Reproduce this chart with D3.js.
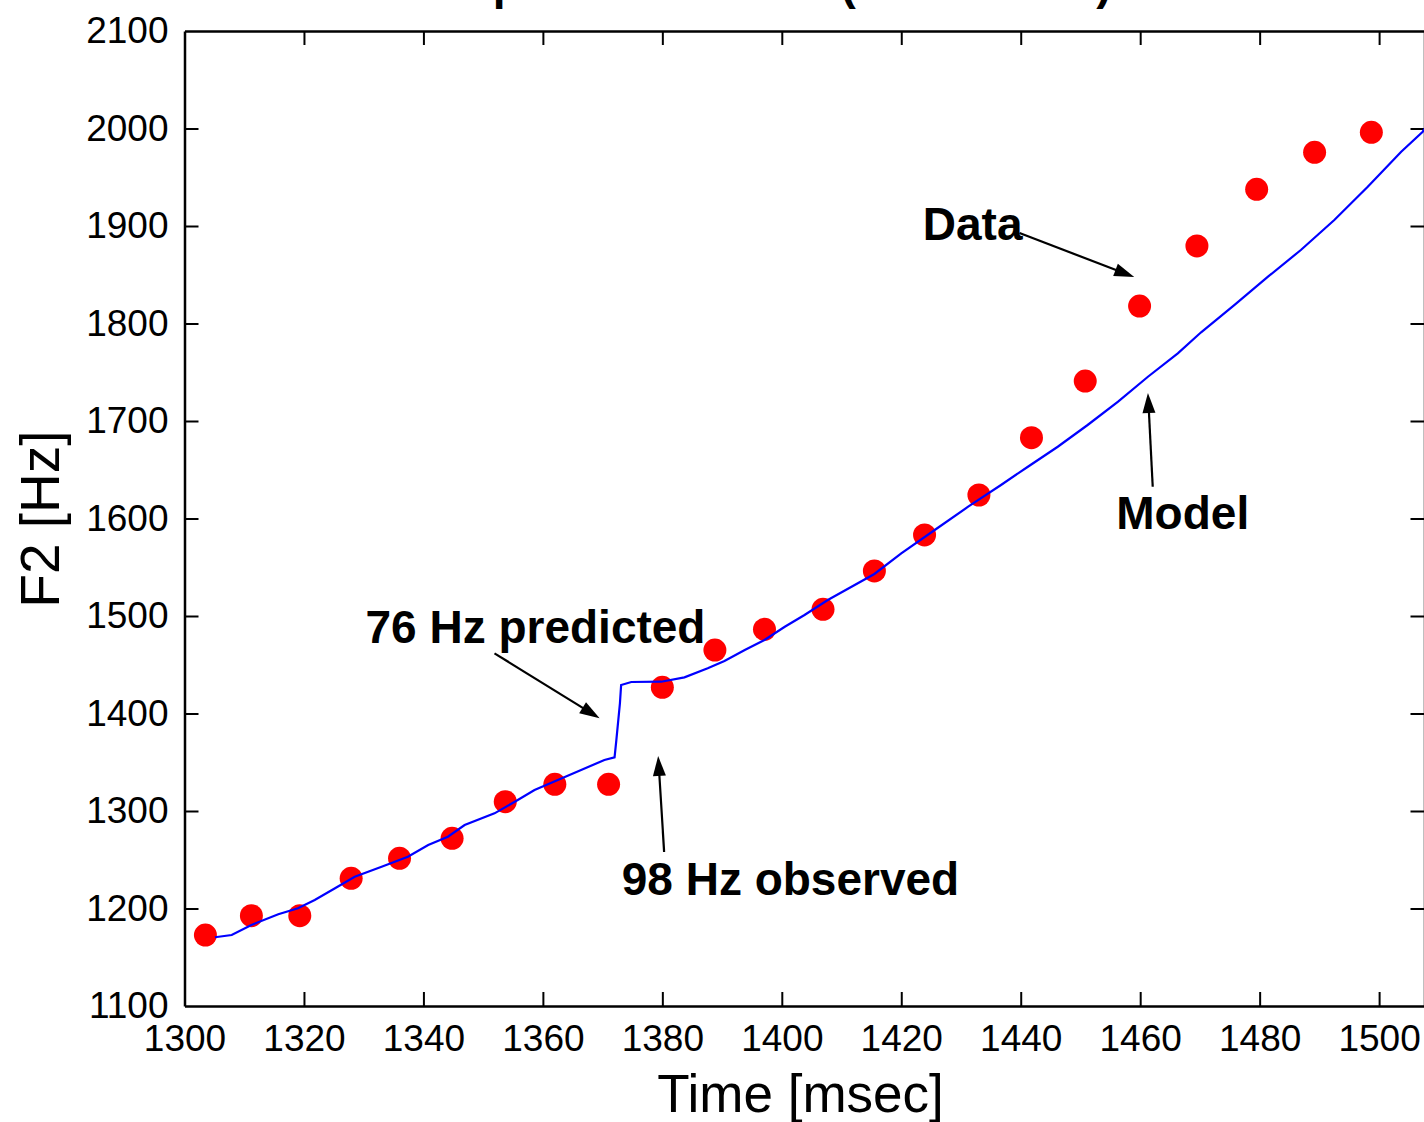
<!DOCTYPE html>
<html>
<head>
<meta charset="utf-8">
<style>
  body { margin: 0; background: #fff; overflow: hidden; }
  svg { display: block; }
  text { font-family: "Liberation Sans", Arial, sans-serif; fill: #000; }
</style>
<script src="https://d3js.org/d3.v7.min.js"></script>
</head>
<body>
<svg id="chart"></svg>
<script>
  var width = 1424;
  var height = 1122;

  // measured F2 (red dots)
  var dataTime = [1303.5, 1311.2, 1319.3, 1327.9, 1336.0, 1344.8, 1353.7, 1362.0, 1371.0, 1380.0,
                  1388.8, 1397.1, 1406.9, 1415.5, 1423.9, 1433.0, 1441.8, 1450.8, 1459.9, 1469.5,
                  1479.5, 1489.2, 1498.7];
  var dataF2 = [1172.8, 1192.6, 1192.6, 1231.0, 1251.5, 1272.0, 1309.5, 1327.4, 1327.4, 1426.9,
                1465.1, 1486.4, 1506.9, 1546.2, 1583.1, 1624.1, 1682.9, 1741.0, 1817.9, 1879.5,
                1937.6, 1975.6, 1996.1];

  // model F2 (blue line)
  var modelTime = [1305.1, 1307.9, 1311.2, 1315.7, 1319.0, 1321.8, 1325.2, 1328.5, 1333.0, 1337.4,
                   1340.8, 1344.1, 1346.9, 1351.9, 1355.3, 1358.6, 1362.5, 1366.4, 1370.3, 1372.0,
                   1372.3, 1372.9, 1373.1, 1374.8, 1379.8, 1383.7, 1387.6, 1390.4, 1393.8, 1397.1,
                   1400.5, 1403.8, 1407.7, 1415.5, 1420.0, 1425.6, 1431.2, 1436.7, 1441.2, 1446.2,
                   1451.2, 1456.3, 1461.3, 1466.3, 1470.2, 1475.8, 1481.4, 1486.9, 1492.5, 1498.1,
                   1503.7, 1507.3, 1507.7];
  var modelF2 = [1170.5, 1172.8, 1183.1, 1194.1, 1200.2, 1208.7, 1220.7, 1232.6, 1242.9, 1253.1,
                 1265.1, 1273.6, 1285.6, 1297.6, 1309.5, 1321.5, 1331.8, 1342.1, 1352.3, 1355.1,
                 1372.8, 1410.5, 1429.2, 1432.3, 1432.6, 1437.1, 1446.4, 1453.8, 1465.1, 1475.4,
                 1489.0, 1501.0, 1516.4, 1543.1, 1564.3, 1588.2, 1612.1, 1634.4, 1653.1, 1673.6,
                 1695.9, 1719.8, 1745.4, 1769.4, 1791.0, 1819.0, 1848.0, 1875.4, 1906.2, 1940.3,
                 1976.2, 1996.7, 2000.5];

  var xTicks = [1300, 1320, 1340, 1360, 1380, 1400, 1420, 1440, 1460, 1480, 1500];
  var yTicks = [1100, 1200, 1300, 1400, 1500, 1600, 1700, 1800, 1900, 2000, 2100];

  // annotations: label, label anchor (time, F2), arrow start and arrow tip
  var noteLabels = ["Data", "Model", "76 Hz predicted", "98 Hz observed"];
  var noteTextT = [1423.6, 1456.0, 1330.3, 1373.2];
  var noteTextF = [1885.6, 1589.2, 1472.0, 1213.8];
  var arrowFromT = [1439.8, 1462.1, 1351.9, 1380.3];
  var arrowFromF = [1892.8, 1632.6, 1461.7, 1257.9];
  var arrowToT = [1459.0, 1461.3, 1369.5, 1379.3];
  var arrowToF = [1847.7, 1728.7, 1395.1, 1356.4];

  var titleText = 'Speaker M1: /rai/ (from "rice")';

  var plotLeft = 184.5, plotTop = 31, plotRight = 1424.5, plotBottom = 1006;

  var x = d3.scaleLinear().domain([1300, 1507.6]).range([plotLeft, plotRight]);
  var y = d3.scaleLinear().domain([1100, 2100]).range([plotBottom, plotTop]);

  var svg = d3.select("#chart").attr("width", width).attr("height", height);

  svg.append("rect").attr("width", width).attr("height", height).attr("fill", "#fff");

  svg.append("defs").append("clipPath").attr("id", "plotclip")
    .append("rect")
    .attr("x", plotLeft).attr("y", plotTop)
    .attr("width", plotRight - plotLeft).attr("height", plotBottom - plotTop);

  // title, cut off by the top of the picture
  svg.append("text")
    .attr("x", 462)
    .attr("y", -1)
    .style("font-size", "46px")
    .style("font-weight", "bold")
    .text(titleText);

  // axes (ticks point inward like MATLAB)
  var tickLen = 14;
  var fmt = d3.format("d");
  var xAxis = d3.axisBottom(x).tickValues(xTicks).tickFormat(fmt).tickSizeInner(-tickLen).tickSizeOuter(0).tickPadding(19);
  var xAxisTop = d3.axisTop(x).tickValues(xTicks).tickSizeInner(-tickLen).tickSizeOuter(0).tickFormat("");
  var yAxis = d3.axisLeft(y).tickValues(yTicks).tickFormat(fmt).tickSizeInner(-tickLen).tickSizeOuter(0).tickPadding(16);
  var yAxisRight = d3.axisRight(y).tickValues(yTicks).tickSizeInner(-tickLen).tickSizeOuter(0).tickFormat("");

  var gx = svg.append("g").attr("transform", "translate(0," + plotBottom + ")").call(xAxis);
  var gxt = svg.append("g").attr("transform", "translate(0," + plotTop + ")").call(xAxisTop);
  var gy = svg.append("g").attr("transform", "translate(" + plotLeft + ",0)").call(yAxis);
  var gyr = svg.append("g").attr("transform", "translate(" + plotRight + ",0)").call(yAxisRight);

  [gx, gxt, gy, gyr].forEach(function(g) {
    g.select(".domain").attr("stroke", "#000").attr("stroke-width", 2.5);
    g.selectAll(".tick line").attr("stroke", "#000").attr("stroke-width", 2);
    g.selectAll(".tick text")
      .attr("fill", "#000")
      .style("font-family", "'Liberation Sans', Arial, sans-serif")
      .style("font-size", "37px");
  });
  // no tick marks on the box corners
  gx.selectAll(".tick line").attr("display", function(d) { return x(d) < plotLeft + 1 ? "none" : null; });
  gxt.selectAll(".tick line").attr("display", function(d) { return x(d) < plotLeft + 1 ? "none" : null; });
  gy.selectAll(".tick line").attr("display", function(d) { return (d == 1100 || d == 2100) ? "none" : null; });
  gyr.selectAll(".tick line").attr("display", function(d) { return (d == 1100 || d == 2100) ? "none" : null; });

  // axis labels
  svg.append("text")
    .attr("x", (plotLeft + plotRight) / 2 - 4)
    .attr("y", 1112)
    .attr("text-anchor", "middle")
    .style("font-size", "53px")
    .text("Time [msec]");

  svg.append("text")
    .attr("transform", "translate(59,519) rotate(-90)")
    .attr("text-anchor", "middle")
    .style("font-size", "55px")
    .text("F2 [Hz]");

  var plot = svg.append("g").attr("clip-path", "url(#plotclip)");

  // data dots
  plot.append("g").selectAll("circle")
    .data(dataTime)
    .enter()
    .append("circle")
    .attr("cx", function(d) { return x(d); })
    .attr("cy", function(d, i) { return y(dataF2[i]); })
    .attr("r", 11.5)
    .attr("fill", "#ff0000");

  // model line
  var line = d3.line()
    .x(function(d) { return x(d); })
    .y(function(d, i) { return y(modelF2[i]); });

  plot.append("path")
    .datum(modelTime)
    .attr("d", line)
    .attr("fill", "none")
    .attr("stroke", "#0000ff")
    .attr("stroke-width", 2.2);

  // annotations
  var notes = svg.append("g");
  noteLabels.forEach(function(label, i) {
    notes.append("text")
      .attr("x", x(noteTextT[i]))
      .attr("y", y(noteTextF[i]))
      .style("font-size", "46px")
      .style("font-weight", "bold")
      .text(label);

    var x1 = x(arrowFromT[i]), y1 = y(arrowFromF[i]);
    var x2 = x(arrowToT[i]), y2 = y(arrowToF[i]);
    var dx = x2 - x1, dy = y2 - y1;
    var len = Math.sqrt(dx * dx + dy * dy);
    var ux = dx / len, uy = dy / len;
    var headLen = 20, headW = 6.5;
    var bx = x2 - ux * headLen, by = y2 - uy * headLen;

    notes.append("line")
      .attr("x1", x1).attr("y1", y1)
      .attr("x2", bx + ux * 4).attr("y2", by + uy * 4)
      .attr("stroke", "#000")
      .attr("stroke-width", 2.2);

    notes.append("polygon")
      .attr("points", [
        [x2, y2],
        [bx - uy * headW, by + ux * headW],
        [bx + uy * headW, by - ux * headW]
      ].map(function(p) { return p.join(","); }).join(" "))
      .attr("fill", "#000");
  });
</script>
</body>
</html>
